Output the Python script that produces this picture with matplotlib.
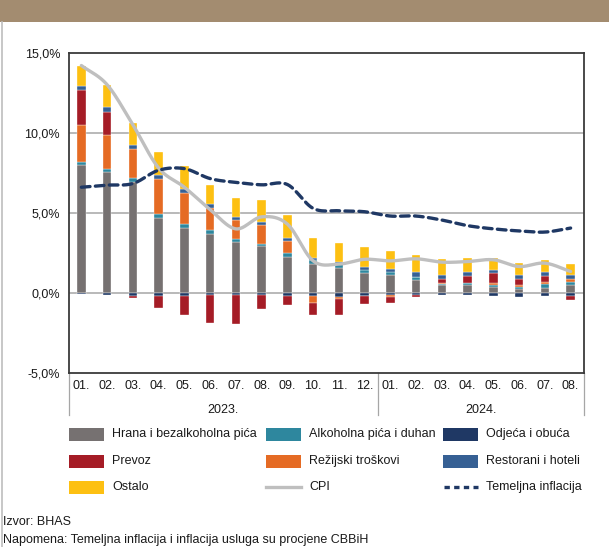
import matplotlib
matplotlib.use('Agg')
import matplotlib.pyplot as plt
from matplotlib import font_manager
from matplotlib.lines import Line2D
import matplotlib.patches as patches
import numpy as np

months = ['01.', '02.', '03.', '04.', '05.', '06.', '07.', '08.', '09.', '10.', '11.', '12.',
          '01.', '02.', '03.', '04.', '05.', '06.', '07.', '08.']
years = ['2023.', '2024.']

# doprinosi (p.p.) by component
hrana = [8.0, 7.58, 6.91, 4.66, 4.04, 3.70, 3.17, 2.92, 2.27, 1.82, 1.55, 1.24,
         1.12, 0.81, 0.47, 0.47, 0.37, 0.23, 0.33, 0.50]
alkohol = [0.16, 0.18, 0.25, 0.25, 0.25, 0.21, 0.18, 0.16, 0.21, 0.23, 0.27, 0.21,
           0.20, 0.20, 0.10, 0.15, 0.13, 0.12, 0.21, 0.18]
odjeca = [-0.05, -0.10, -0.17, -0.20, -0.20, -0.15, -0.15, -0.13, -0.19, -0.20, -0.23, -0.17,
          -0.15, -0.15, -0.15, -0.15, -0.19, -0.23, -0.20, -0.17]
rezije = [2.35, 2.07, 1.82, 2.23, 1.92, 1.39, 1.18, 1.14, 0.77, -0.42, -0.14, -0.05,
          -0.10, 0.0, 0.05, 0.02, 0.14, 0.12, 0.16, 0.19]
prevoz = [2.13, 1.45, -0.12, -0.73, -1.20, -1.74, -1.80, -0.89, -0.56, -0.77, -1.02, -0.49,
          -0.40, -0.10, 0.23, 0.41, 0.58, 0.38, 0.37, -0.29]
restorani = [0.29, 0.31, 0.25, 0.25, 0.27, 0.25, 0.21, 0.23, 0.18, 0.14, 0.12, 0.18,
             0.17, 0.27, 0.29, 0.27, 0.23, 0.27, 0.25, 0.25]
ostalo = [1.24, 1.39, 1.37, 1.39, 1.43, 1.22, 1.18, 1.33, 1.45, 1.26, 1.20, 1.26,
          1.14, 1.10, 0.99, 0.85, 0.76, 0.74, 0.73, 0.68]
cpi = [14.2, 13.0, 10.5, 7.8, 6.6, 5.2, 4.0, 4.75, 4.3, 2.0, 1.8, 2.1,
       2.0, 2.13, 1.92, 1.96, 2.07, 1.65, 1.86, 1.34]
temeljna = [6.6, 6.73, 6.83, 7.66, 7.76, 7.14, 6.9, 6.75, 6.77, 5.28, 5.13, 5.07,
            4.8, 4.8, 4.55, 4.2, 4.0, 3.87, 3.8, 4.05]

# stacking order as seen in the bars
series = [
    ('Hrana i bezalkoholna pića', hrana, '#767171'),
    ('Alkoholna pića i duhan', alkohol, '#2E879E'),
    ('Odjeća i obuća', odjeca, '#1F3864'),
    ('Režijski troškovi', rezije, '#E56B24'),
    ('Prevoz', prevoz, '#A51C26'),
    ('Restorani i hoteli', restorani, '#366094'),
    ('Ostalo', ostalo, '#FDC012'),
]

names = {f.name for f in font_manager.fontManager.ttflist}
family = 'Liberation Sans Narrow' if 'Liberation Sans Narrow' in names else 'Liberation Sans'
plt.rcParams['font.family'] = [family, 'DejaVu Sans']
text_color = '#1a1a1a'
fs = 9

W, H = 609, 547


def px(x, y):
    # pixel coords (top-left origin) -> figure fraction
    return x / W, 1 - y / H


def smooth(xs, ys, n=24):
    xs = np.asarray(xs, float)
    ys = np.asarray(ys, float)
    px_ = np.concatenate([[2 * xs[0] - xs[1]], xs, [2 * xs[-1] - xs[-2]]])
    py_ = np.concatenate([[2 * ys[0] - ys[1]], ys, [2 * ys[-1] - ys[-2]]])
    out_x, out_y = [], []
    t = np.linspace(0, 1, n, endpoint=False)
    for i in range(1, len(px_) - 2):
        for arr, out in ((px_, out_x), (py_, out_y)):
            p0, p1, p2, p3 = arr[i - 1], arr[i], arr[i + 1], arr[i + 2]
            out.extend(0.5 * ((2 * p1) + (-p0 + p2) * t + (2 * p0 - 5 * p1 + 4 * p2 - p3) * t ** 2
                              + (-p0 + 3 * p1 - 3 * p2 + p3) * t ** 3))
    out_x.append(xs[-1])
    out_y.append(ys[-1])
    return np.array(out_x), np.array(out_y)


fig = plt.figure(figsize=(W / 100, H / 100), dpi=100)

# header band and page edge
fig.add_artist(patches.Rectangle((0, 1 - 22 / H), 1, 22 / H, transform=fig.transFigure,
                                 color='#A38C70', lw=0))
fig.add_artist(Line2D([1.5 / W, 1.5 / W], [0, 1 - 22 / H], transform=fig.transFigure,
                      color='#BDBDBD', lw=1.2))

left, right, top, bottom = 68.5, 583.5, 52.7, 373
ax = fig.add_axes([left / W, 1 - bottom / H, (right - left) / W, (bottom - top) / H])

x = np.arange(len(months))
pos = np.zeros(len(x))
neg = np.zeros(len(x))
for name, vals, col in series:
    v = np.asarray(vals, float)
    base = np.where(v >= 0, pos, neg)
    ax.bar(x, v, 0.33, bottom=base, color=col, edgecolor='white', linewidth=0.25, zorder=3)
    pos = pos + np.clip(v, 0, None)
    neg = neg + np.clip(v, None, 0)

sx, sy = smooth(x, cpi)
ax.plot(sx, sy, color='#BFBFBF', lw=2.4, zorder=4, solid_capstyle='round')
tx, ty = smooth(x, temeljna)
ax.plot(tx, ty, color='#1F3864', lw=2.4, dashes=(2.6, 1.6), dash_capstyle='round', zorder=5)

ax.set_xlim(-0.5, len(x) - 0.5)
ax.set_ylim(-5, 15)
ax.set_yticks([-5, 0, 5, 10, 15])
ax.set_yticklabels(['-5,0%', '0,0%', '5,0%', '10,0%', '15,0%'])
for g in [0, 5, 10]:
    ax.axhline(g, color='#A6A6A6', lw=1.1, zorder=1)
ax.tick_params(axis='y', length=0, pad=6, labelsize=fs, labelcolor=text_color)
ax.set_xticks(x)
ax.set_xticklabels(months)
ax.tick_params(axis='x', length=0, pad=5, labelsize=fs, labelcolor=text_color)
for s in ax.spines.values():
    s.set_color('#3a3a3a')
    s.set_linewidth(1.3)

# year groups under the month labels
trans = ax.get_xaxis_transform()
for xv in [-0.5, 11.5, len(x) - 0.5]:
    ax.plot([xv, xv], [0, -0.13], transform=trans, color='#A6A6A6', lw=0.9, clip_on=False)
ax.text(5.5, -0.115, years[0], transform=trans, ha='center', va='center', fontsize=fs, color=text_color)
ax.text(15.5, -0.115, years[1], transform=trans, ha='center', va='center', fontsize=fs, color=text_color)

# legend laid out like the original (3 columns)
leg = [
    ('Hrana i bezalkoholna pića', 'patch', '#767171'),
    ('Alkoholna pića i duhan', 'patch', '#2E879E'),
    ('Odjeća i obuća', 'patch', '#1F3864'),
    ('Prevoz', 'patch', '#A51C26'),
    ('Režijski troškovi', 'patch', '#E56B24'),
    ('Restorani i hoteli', 'patch', '#366094'),
    ('Ostalo', 'patch', '#FDC012'),
    ('CPI', 'line', '#BFBFBF'),
    ('Temeljna inflacija', 'dash', '#1F3864'),
]
col_x = [69, 266, 443]
row_y = [434, 461, 487]
pw, ph = 35, 13
for i, (lab, kind, col) in enumerate(leg):
    lx, ly = col_x[i % 3], row_y[i // 3]
    if kind == 'patch':
        x0, y0 = px(lx, ly + ph / 2)
        fig.add_artist(patches.Rectangle((x0, y0), pw / W, ph / H, transform=fig.transFigure,
                                         color=col, lw=0))
    elif kind == 'line':
        fig.add_artist(Line2D([lx / W, (lx + pw) / W], [1 - ly / H] * 2, transform=fig.transFigure,
                              color=col, lw=2.4))
    else:
        fig.add_artist(Line2D([(lx + 1) / W, (lx + pw) / W], [1 - ly / H] * 2, transform=fig.transFigure,
                              color=col, lw=2.4, dashes=(1.6, 1.3)))
    tx_, ty_ = px(lx + pw + 8, ly)
    fig.text(tx_, ty_, lab, ha='left', va='center', fontsize=fs, color=text_color)

fig.text(*px(3, 522), 'Izvor: BHAS', ha='left', va='center', fontsize=fs, color=text_color)
fig.text(*px(3, 540), 'Napomena: Temeljna inflacija i inflacija usluga su procjene CBBiH',
         ha='left', va='center', fontsize=fs, color=text_color)

fig.savefig('out.png', dpi=100)
